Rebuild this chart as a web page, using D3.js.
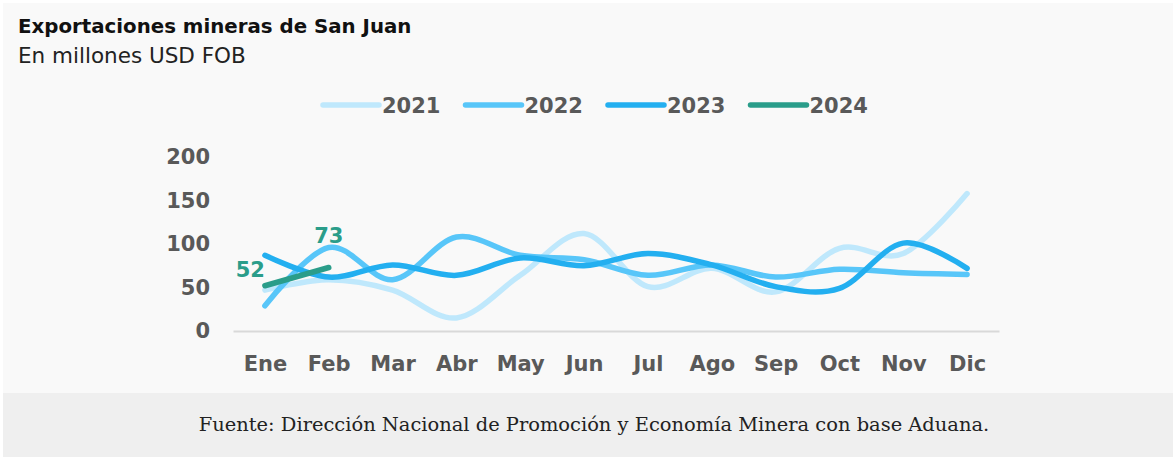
<!DOCTYPE html>
<html>
<head>
<meta charset="utf-8">
<script src="https://cdn.jsdelivr.net/npm/d3@7"></script>
<style>
  body { margin: 0; background: #fff; }
  text { font-family: "DejaVu Sans", sans-serif; }
  .axis text { font-weight: bold; fill: #595959; font-size: 21px; }
  text.source { font-family: "DejaVu Serif", "Liberation Serif", serif; }
</style>
</head>
<body>
<svg id="chart" width="1176" height="457"></svg>
<script>
const months = ['Ene', 'Feb', 'Mar', 'Abr', 'May', 'Jun', 'Jul', 'Ago', 'Sep', 'Oct', 'Nov', 'Dic'];
const years = ['2021', '2022', '2023', '2024'];
const colors = ['#bfe8fc', '#58c6f9', '#23aff0', '#2a9d8a'];
const v2021 = [47, 59, 47, 15, 64, 112, 51, 72, 45, 95, 89, 158];
const v2022 = [29, 96, 59, 108, 87, 82, 64, 76, 62, 71, 67, 65];
const v2023 = [87, 62, 76, 64, 84, 75, 89, 76, 51, 49, 101, 72];
const v2024 = [52, 73];
const yTicks = [0, 50, 100, 150, 200];

const series = [v2021, v2022, v2023, v2024];

const svg = d3.select('#chart');

// panels
svg.append('rect')
  .attr('x', 3).attr('y', 3)
  .attr('width', 1170).attr('height', 390)
  .attr('fill', '#f9f9f9');
svg.append('rect')
  .attr('x', 3).attr('y', 393)
  .attr('width', 1170).attr('height', 64)
  .attr('fill', '#efefef');

// title
svg.append('text')
  .attr('x', 18).attr('y', 33)
  .attr('font-size', 19.8)
  .attr('font-weight', 'bold')
  .attr('fill', '#111')
  .text('Exportaciones mineras de San Juan');

svg.append('text')
  .attr('x', 18).attr('y', 63)
  .attr('font-size', 21.5)
  .attr('fill', '#222')
  .text('En millones USD FOB');

const x = d3.scalePoint()
  .domain(months)
  .range([233, 999])
  .padding(0.5);

const y = d3.scaleLinear()
  .domain([0, 200])
  .range([331, 157]);

// y axis
const yAxis = svg.append('g')
  .attr('class', 'axis')
  .attr('transform', 'translate(213,0)')
  .call(d3.axisLeft(y).tickValues(yTicks).tickSize(0).tickPadding(3));
yAxis.select('.domain').remove();

// x axis
const xAxis = svg.append('g')
  .attr('class', 'axis')
  .attr('transform', 'translate(0,331)')
  .call(d3.axisBottom(x).tickSize(0).tickSizeOuter(0).tickPadding(25));
xAxis.select('.domain')
  .attr('stroke', '#d9d9d9')
  .attr('stroke-width', 2);

// lines
const line = d3.line()
  .x((d, i) => x(months[i]))
  .y((d) => y(d))
  .curve(d3.curveCardinal.tension(0));

svg.append('g')
  .selectAll('path')
  .data(series)
  .join('path')
  .attr('d', line)
  .attr('fill', 'none')
  .attr('stroke', (d, i) => colors[i])
  .attr('stroke-width', 5.5)
  .attr('stroke-linecap', 'round');

// labels on 2024
const labelDx = [0, 0];
const labelDy = [-9, -24];
const labelAnchor = ['end', 'middle'];
svg.append('g')
  .selectAll('text')
  .data(v2024)
  .join('text')
  .attr('x', (d, i) => x(months[i]) + labelDx[i])
  .attr('y', (d, i) => y(d) + labelDy[i])
  .attr('text-anchor', (d, i) => labelAnchor[i])
  .attr('font-size', 21)
  .attr('font-weight', 'bold')
  .attr('fill', colors[3])
  .text((d) => d);

// legend
const legend = svg.append('g')
  .selectAll('g')
  .data(years)
  .join('g')
  .attr('transform', (d, i) => `translate(${323 + i * 142.5},105)`);
legend.append('line')
  .attr('x1', 0).attr('x2', 56)
  .attr('stroke', (d, i) => colors[i])
  .attr('stroke-width', 5.5)
  .attr('stroke-linecap', 'round');
legend.append('text')
  .attr('x', 59).attr('y', 8)
  .attr('font-size', 21)
  .attr('font-weight', 'bold')
  .attr('fill', '#595959')
  .text((d) => d);

// source
const source = svg.append('text')
  .attr('class', 'source')
  .attr('x', 594).attr('y', 431)
  .attr('text-anchor', 'middle')
  .attr('font-size', 17)
  .attr('fill', '#222')
  .text('Fuente: Dirección Nacional de Promoción y Economía Minera con base Aduana.');

// fit the source line to the width it has in the original
const w = source.node().getComputedTextLength();
source.attr('font-size', 17 * 791 / w);
</script>
</body>
</html>
